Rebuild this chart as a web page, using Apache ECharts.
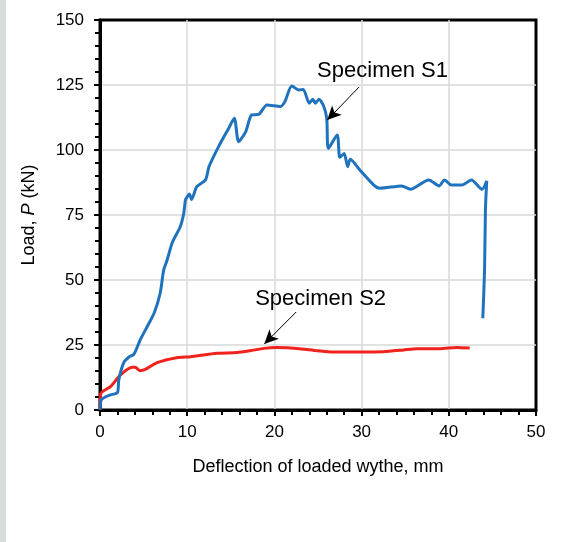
<!DOCTYPE html>
<html>
<head>
<meta charset="utf-8">
<script src="https://cdn.jsdelivr.net/npm/echarts@6/dist/echarts.min.js"></script>
<style>
  html, body { margin: 0; padding: 0; background: #ffffff; }
  #wrap { position: relative; width: 566px; height: 542px; }
  #strip { position: absolute; left: 0; top: 0; width: 6px; height: 542px; background: #d6dedc; }
  #chart { position: absolute; left: 0; top: 0; width: 566px; height: 542px; }
</style>
</head>
<body>
<div id="wrap">
  <div id="strip"></div>
  <div id="chart"></div>
</div>
<script>
// Load–deflection response of the two specimens
const s1Deflection = [0, 0.13, 0.6, 1.2, 2.0, 2.15, 2.7, 3.3, 3.9, 4.6, 5.4, 6.2, 6.9, 7.3, 7.7, 8.3, 9.2, 9.6, 9.8, 10.0, 10.25, 10.5, 11.1, 12.1, 12.5, 13.6, 14.75, 15.4, 15.9, 16.7, 17.4, 18.2, 19.15, 20.7, 21.2, 22.0, 22.8, 23.3, 24.0, 24.4, 24.7, 25.1, 25.6, 26.0, 26.2, 27.2, 27.5, 28.0, 28.4, 28.7, 29.8, 31.4, 32.1, 34.6, 35.6, 37.7, 38.9, 39.5, 40.3, 41.5, 42.6, 43.8, 44.35, 44.2, 44.1, 43.9];
const s1Load = [0, 3.8, 5.0, 5.8, 6.7, 11.5, 18.0, 20.3, 21.5, 26.9, 32.0, 37.2, 44.9, 53.8, 57.7, 64.5, 70.5, 75.6, 80.8, 82.0, 83.1, 81.0, 85.9, 88.5, 93.6, 101.3, 108.3, 112.2, 103.2, 107.0, 113.5, 113.7, 117.3, 116.7, 118.6, 124.6, 123.1, 123.3, 118.0, 119.5, 118.0, 119.5, 117.3, 112.2, 100.6, 105.8, 97.2, 98.7, 93.6, 96.4, 92.3, 86.5, 85.3, 86.2, 84.9, 88.5, 86.2, 88.5, 86.5, 86.5, 88.5, 84.9, 88.1, 76.9, 53.8, 35.3];

const s2Deflection = [0, 0.1, 1.2, 2.35, 3.7, 4.05, 4.6, 5.2, 6.55, 8.8, 10.4, 13.4, 15.7, 17.2, 18.8, 20.3, 22.6, 24.9, 26.8, 29.5, 32.5, 34.8, 36.3, 39.0, 40.9, 42.4];
const s2Load = [0, 6.4, 9.0, 13.5, 16.4, 16.4, 15.1, 15.6, 18.2, 20.1, 20.5, 21.8, 22.1, 22.8, 23.7, 24.0, 23.7, 22.8, 22.3, 22.3, 22.4, 23.1, 23.6, 23.6, 24.0, 23.8];

// Callout labels: text anchor, arrow tail and arrow tip (deflection, load)
const calloutNames = ['Specimen S1', 'Specimen S2'];
const calloutText = [[32.4, 130.3], [25.3, 42.6]];
const calloutTail = [[29.7, 124.2], [22.5, 37.7]];
const calloutTip = [[26.06, 111.5], [18.84, 25.4]];

const xTicks = [0, 10, 20, 30, 40, 50];
const yTicks = [0, 25, 50, 75, 100, 125, 150];

const FONT = 'Liberation Sans, Arial, sans-serif';

const zip = (a, b) => a.map((v, i) => [v, b[i]]);

const chart = echarts.init(document.getElementById('chart'), null, { renderer: 'canvas' });

chart.setOption({
  animation: false,
  backgroundColor: 'transparent',
  textStyle: { fontFamily: FONT },
  grid: {
    left: 100, right: 30, top: 20, bottom: 132,
    show: true, borderColor: '#000', borderWidth: 3, backgroundColor: 'transparent'
  },
  xAxis: {
    type: 'value',
    min: xTicks[0], max: xTicks[xTicks.length - 1], interval: 10,
    name: 'Deflection of loaded wythe, mm',
    nameLocation: 'middle', nameGap: 48,
    nameTextStyle: { fontSize: 18, color: '#000', fontFamily: FONT },
    axisLine: { show: true, onZero: false, lineStyle: { color: '#000', width: 3 } },
    axisTick: { show: true, inside: false, length: 6, lineStyle: { color: '#000', width: 2 } },
    minorTick: { show: true, splitNumber: 5, length: 5, lineStyle: { color: '#000', width: 2 } },
    axisLabel: { fontSize: 17, color: '#000', margin: 14, fontFamily: FONT },
    splitLine: { show: true, showMinLine: false, showMaxLine: false, lineStyle: { color: '#d9d9d9', width: 1.5 } },
    minorSplitLine: { show: false }
  },
  yAxis: {
    type: 'value',
    min: yTicks[0], max: yTicks[yTicks.length - 1], interval: 25,
    name: '{n|Load, }{i|P}{n| (kN)}',
    nameLocation: 'middle', nameGap: 62, nameRotate: 90,
    nameTextStyle: {
      fontSize: 18, color: '#000', fontFamily: FONT,
      rich: {
        n: { fontSize: 18, color: '#000', fontFamily: FONT },
        i: { fontSize: 18, color: '#000', fontFamily: FONT, fontStyle: 'italic' }
      }
    },
    axisLine: { show: true, onZero: false, lineStyle: { color: '#000', width: 3 } },
    axisTick: { show: true, inside: false, length: 6, lineStyle: { color: '#000', width: 2 } },
    minorTick: { show: true, splitNumber: 5, length: 5, lineStyle: { color: '#000', width: 2 } },
    axisLabel: { fontSize: 17, color: '#000', margin: 16, fontFamily: FONT },
    splitLine: { show: true, showMinLine: false, showMaxLine: false, lineStyle: { color: '#d9d9d9', width: 1.5 } },
    minorSplitLine: { show: false }
  },
  series: [
    {
      name: 'Specimen S2',
      type: 'line',
      data: zip(s2Deflection, s2Load),
      showSymbol: false, symbol: 'none',
      smooth: 0.2,
      lineStyle: { color: '#f0221c', width: 3 },
      z: 3
    },
    {
      name: 'Specimen S1',
      type: 'line',
      data: zip(s1Deflection, s1Load),
      showSymbol: false, symbol: 'none',
      smooth: 0.25,
      lineStyle: { color: '#1f72bd', width: 3 },
      z: 4
    },
    {
      name: 'callouts',
      type: 'line',
      data: [],
      z: 5,
      markLine: {
        silent: true,
        symbol: ['none', 'arrow'],
        symbolSize: [10, 14],
        label: { show: false },
        lineStyle: { color: '#000', width: 1, type: 'solid' },
        data: calloutTail.map((t, i) => [{ coord: t }, { coord: calloutTip[i] }])
      },
      markPoint: {
        silent: true,
        symbol: 'circle', symbolSize: 0,
        label: {
          show: true, position: 'inside', fontSize: 22, color: '#000',
          fontFamily: FONT, formatter: (p) => p.name
        },
        data: calloutText.map((c, i) => ({ name: calloutNames[i], coord: c }))
      }
    }
  ]
});
</script>
</body>
</html>
